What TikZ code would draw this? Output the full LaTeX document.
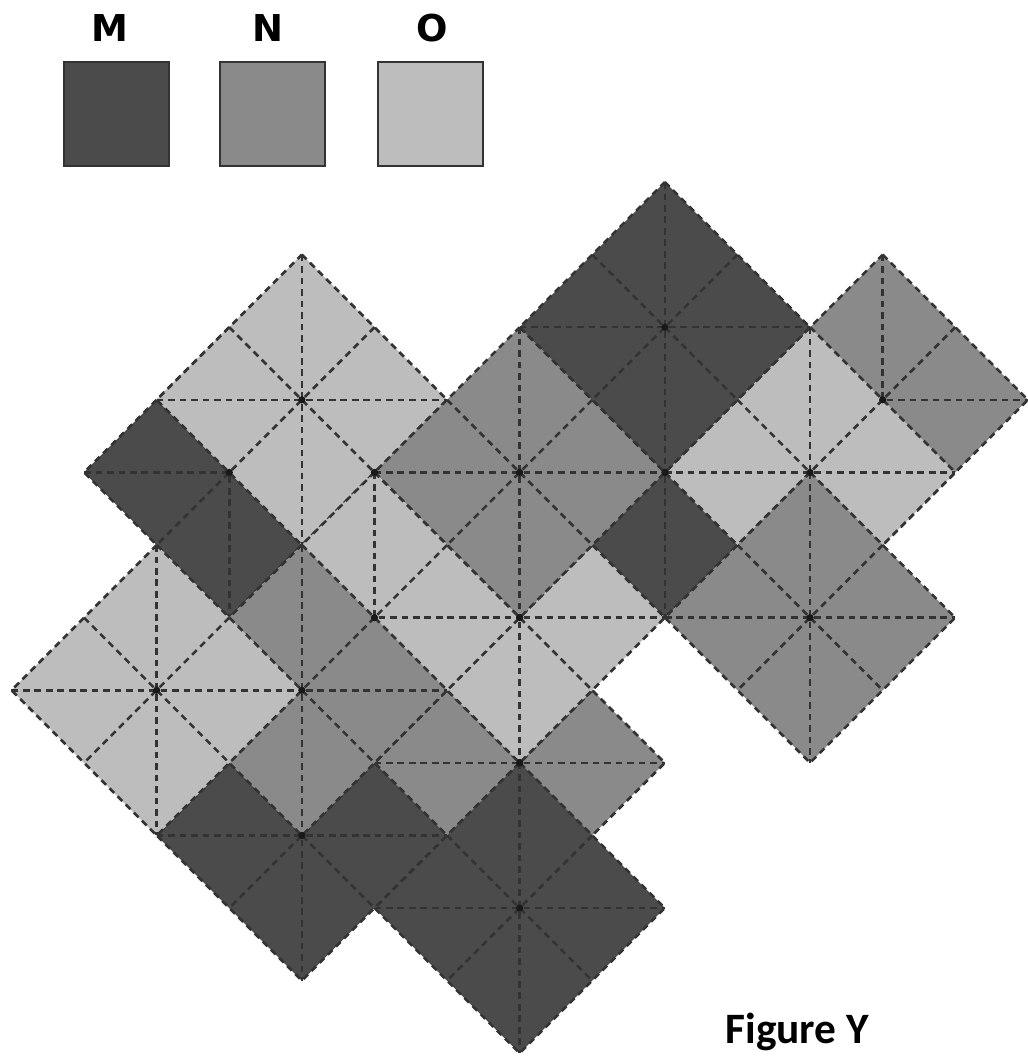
\documentclass[tikz,border=0pt]{standalone}
\usepackage{fontspec}
\newfontfamily\legendfont{DejaVu Sans}
\newfontfamily\capfont{Carlito}
\definecolor{mcol}{HTML}{4B4B4B}
\definecolor{ncol}{HTML}{8A8A8A}
\definecolor{ocol}{HTML}{BDBDBD}
\definecolor{linecol}{HTML}{333333}
\tikzset{
  dashline/.style={draw=linecol, line width=1pt, dash pattern=on 2.6pt off 1.9pt},
  tile/.pic={
    \fill[#1] (0,2)--(2,0)--(0,-2)--(-2,0)--cycle;
    \draw[dashline] (0,2)--(2,0)--(0,-2)--(-2,0)--cycle;
    \draw[dashline] (-2,0)--(2,0);
    \draw[dashline] (0,2)--(0,-2);
    \draw[dashline] (-1,1)--(1,-1);
    \draw[dashline] (1,1)--(-1,-1);
  },
  legbox/.style={draw=linecol, line width=1.1pt, minimum width=1.446cm, minimum height=1.433cm, inner sep=0pt},
  leglabel/.style={anchor=base, font=\legendfont\bfseries\fontsize{14.5}{16}\selectfont},
  centerdot/.style={fill=black!90, draw=none}
}
\begin{document}
\begin{tikzpicture}
\useasboundingbox (-0.158,2.507) rectangle (14.001,-12.052);

% legend
\node[legbox, fill=mcol] (boxM) at (1.446,0.937) {};
\node[legbox, fill=ncol] (boxN) at (3.595,0.937) {};
\node[legbox, fill=ocol] (boxO) at (5.771,0.937) {};
\node[leglabel] (labM) at (1.357,1.942) {M};
\node[leglabel] (labN) at (3.533,1.942) {N};
\node[leglabel] (labO) at (5.792,1.942) {O};

% tiles, bottom layer first
\pic at (3,-4)  {tile=mcol};
\pic at (4,-3)  {tile=ocol};
\pic at (12,-3) {tile=ncol};
\pic at (9,-4)  {tile=mcol};
\pic at (11,-4) {tile=ocol};
\pic at (11,-6) {tile=ncol};
\pic at (7,-8)  {tile=ncol};
\pic at (7,-10) {tile=mcol};
\pic at (7,-6)  {tile=ocol};
\pic at (7,-4)  {tile=ncol};
\pic at (9,-2)  {tile=mcol};
\pic at (4,-9)  {tile=mcol};
\pic at (5,-6)  {tile=ocol};
\pic at (4,-7)  {tile=ncol};
\pic at (2,-7)  {tile=ocol};

% dots where the lines meet
\foreach \p in {(3,-4),(4,-3),(12,-3),(9,-4),(11,-4),(11,-6),(7,-8),(7,-10),(7,-6),(7,-4),(9,-2),(4,-9),(5,-6),(4,-7),(2,-7),(5,-4)}
  \fill[centerdot] \p circle (0.05);

% caption
\node[anchor=base west, inner sep=0pt, font=\capfont\bfseries\fontsize{17}{20}\selectfont] (cap) at (9.828,-11.87) {Figure Y};
\end{tikzpicture}
\end{document}
